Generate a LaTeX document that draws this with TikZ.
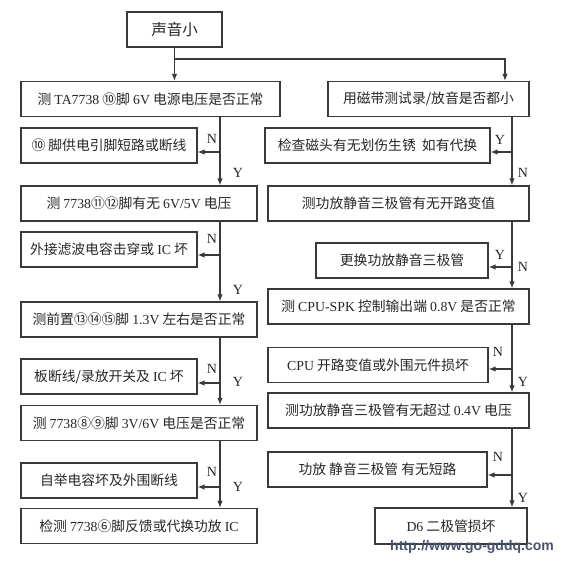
\documentclass[tikz,border=0pt]{standalone}
\usepackage{fontspec}
\setmainfont{Liberation Serif}
\newfontfamily\cjk{Noto Sans CJK SC}
\newfontfamily\wmfont{Liberation Sans}
\usetikzlibrary{arrows.meta}
\definecolor{linea}{HTML}{3A3A3A}
\definecolor{marchio}{HTML}{46526E}
\newcommand{\lat}[1]{{\rmfamily #1}}

\begin{document}
\begin{tikzpicture}[x=1pt, y=-1pt,
    blocco/.style={draw=linea, line width=1.2pt, inner sep=0pt, minimum height=35pt,
        font=\cjk\fontsize{13.8}{16}\selectfont, text=black!85},
    freccia/.style={draw=linea, line width=1.2pt, -{Latex[length=7pt, width=5.5pt]}},
    etich/.style={font=\fontsize{14}{16}\selectfont, text=black!85, inner sep=0pt}]
    \useasboundingbox (0,0) rectangle (567,560);

    % Blocco iniziale
    \node[blocco, minimum width=95pt, font=\cjk\fontsize{15.5}{18}\selectfont] (inizio) at (174.5,29.5) {声音小};

    % Colonna sinistra: prove
    \node[blocco, minimum width=259pt] (sx1) at (150.5,99) {测 \lat{TA7738} ⑩脚 \lat{6V} 电源电压是否正常};
    \node[blocco, minimum width=236pt] (sx2) at (139,203.5) {测 \lat{7738}⑪⑫脚有无 \lat{6V/5V} 电压};
    \node[blocco, minimum width=236pt] (sx3) at (139,319.5) {测前置⑬⑭⑮脚 \lat{1.3V} 左右是否正常};
    \node[blocco, minimum width=236pt] (sx4) at (139,423) {测 \lat{7738}⑧⑨脚 \lat{3V/6V} 电压是否正常};
    \node[blocco, minimum width=236pt] (sx5) at (139,526) {检测 \lat{7738}⑥脚反馈或代换功放 \lat{IC}};

    % Colonna sinistra: guasti
    \node[blocco, minimum width=176pt] (sxg1) at (109,145.5) {⑩ 脚供电引脚短路或断线};
    \node[blocco, minimum width=176pt] (sxg2) at (109,249.5) {外接滤波电容击穿或 \lat{IC} 坏};
    \node[blocco, minimum width=176pt] (sxg3) at (109,376.5) {板断线/录放开关及 \lat{IC} 坏};
    \node[blocco, minimum width=176pt] (sxg4) at (109,480.5) {自举电容坏及外围断线};

    % Colonna destra: prove
    \node[blocco, minimum width=201pt] (dx1) at (428.5,99) {用磁带测试录/放音是否都小};
    \node[blocco, minimum width=261pt] (dx2) at (398.5,203.5) {测功放静音三极管有无开路变值};
    \node[blocco, minimum width=261pt] (dx3) at (398.5,306.5) {测 \lat{CPU-SPK} 控制输出端 \lat{0.8V} 是否正常};
    \node[blocco, minimum width=261pt] (dx4) at (398.5,410.5) {测功放静音三极管有无超过 \lat{0.4V} 电压};
    \node[blocco, minimum width=152pt, minimum height=36pt] (dx5) at (451,526) {\lat{D6} 二极管损坏};

    % Colonna destra: guasti
    \node[blocco, minimum width=225pt] (dxg1) at (377.5,145.5) {检查磁头有无划伤生锈\ \ 如有代换};
    \node[blocco, minimum width=172pt] (dxg2) at (402,260.5) {更换功放静音三极管};
    \node[blocco, minimum width=220pt] (dxg3) at (378,365) {\lat{CPU} 开路变值或外围元件损坏};
    \node[blocco, minimum width=219pt] (dxg4) at (377.5,469.5) {功放\ 静音三极管\ 有无短路};

    % Assi verticali e diramazioni
    \coordinate (asseSx) at (220,0);
    \coordinate (asseDx) at (512,0);
    \coordinate (asseR1) at (505,0);
    \coordinate (ramo) at (174.5,59);
    \coordinate (bsx1) at (220,152);
    \coordinate (bsx2) at (220,255);
    \coordinate (bsx3) at (220,383);
    \coordinate (bsx4) at (220,487);
    \coordinate (bdx1) at (512,152);
    \coordinate (bdx2) at (512,267);
    \coordinate (bdx3) at (512,369);
    \coordinate (bdx4) at (512,475);

    % Collegamenti iniziali
    \draw[freccia] (inizio.south) -- (inizio |- sx1.north);
    \draw[freccia] (ramo) -| (dx1.north -| asseR1);

    % Collegamenti a sinistra
    \draw[freccia] (sx1.south -| asseSx) -- (sx2.north -| asseSx);
    \draw[freccia] (sx2.south -| asseSx) -- (sx3.north -| asseSx);
    \draw[freccia] (sx3.south -| asseSx) -- (sx4.north -| asseSx);
    \draw[freccia] (sx4.south -| asseSx) -- (sx5.north -| asseSx);
    \draw[freccia] (bsx1) -- (bsx1 -| sxg1.east);
    \draw[freccia] (bsx2) -- (bsx2 -| sxg2.east);
    \draw[freccia] (bsx3) -- (bsx3 -| sxg3.east);
    \draw[freccia] (bsx4) -- (bsx4 -| sxg4.east);

    % Collegamenti a destra
    \draw[freccia] (dx1.south -| asseDx) -- (dx2.north -| asseDx);
    \draw[freccia] (dx2.south -| asseDx) -- (dx3.north -| asseDx);
    \draw[freccia] (dx3.south -| asseDx) -- (dx4.north -| asseDx);
    \draw[freccia] (dx4.south -| asseDx) -- (dx5.north -| asseDx);
    \draw[freccia] (bdx1) -- (bdx1 -| dxg1.east);
    \draw[freccia] (bdx2) -- (bdx2 -| dxg2.east);
    \draw[freccia] (bdx3) -- (bdx3 -| dxg3.east);
    \draw[freccia] (bdx4) -- (bdx4 -| dxg4.east);

    % Etichette Y/N
    \node[etich] (n1) at (212,139) {N};
    \node[etich] (y1) at (238,173) {Y};
    \node[etich] (n2) at (212,239) {N};
    \node[etich] (y2) at (238,290) {Y};
    \node[etich] (n3) at (212,369) {N};
    \node[etich] (y3) at (238,382) {Y};
    \node[etich] (n4) at (212,472) {N};
    \node[etich] (y4) at (238,487) {Y};
    \node[etich] (y5) at (500,140) {Y};
    \node[etich] (n5) at (523,173) {N};
    \node[etich] (y6) at (500,255) {Y};
    \node[etich] (n6) at (523,267) {N};
    \node[etich] (n7) at (498,352) {N};
    \node[etich] (y7) at (523,382) {Y};
    \node[etich] (n8) at (498,457) {N};
    \node[etich] (y8) at (523,498) {Y};

    % Marchio
    \node[font=\wmfont\bfseries\fontsize{14}{16}\selectfont, text=marchio, inner sep=0pt] (sito) at (472,547) {http://www.go-gddq.com};
\end{tikzpicture}
\end{document}
